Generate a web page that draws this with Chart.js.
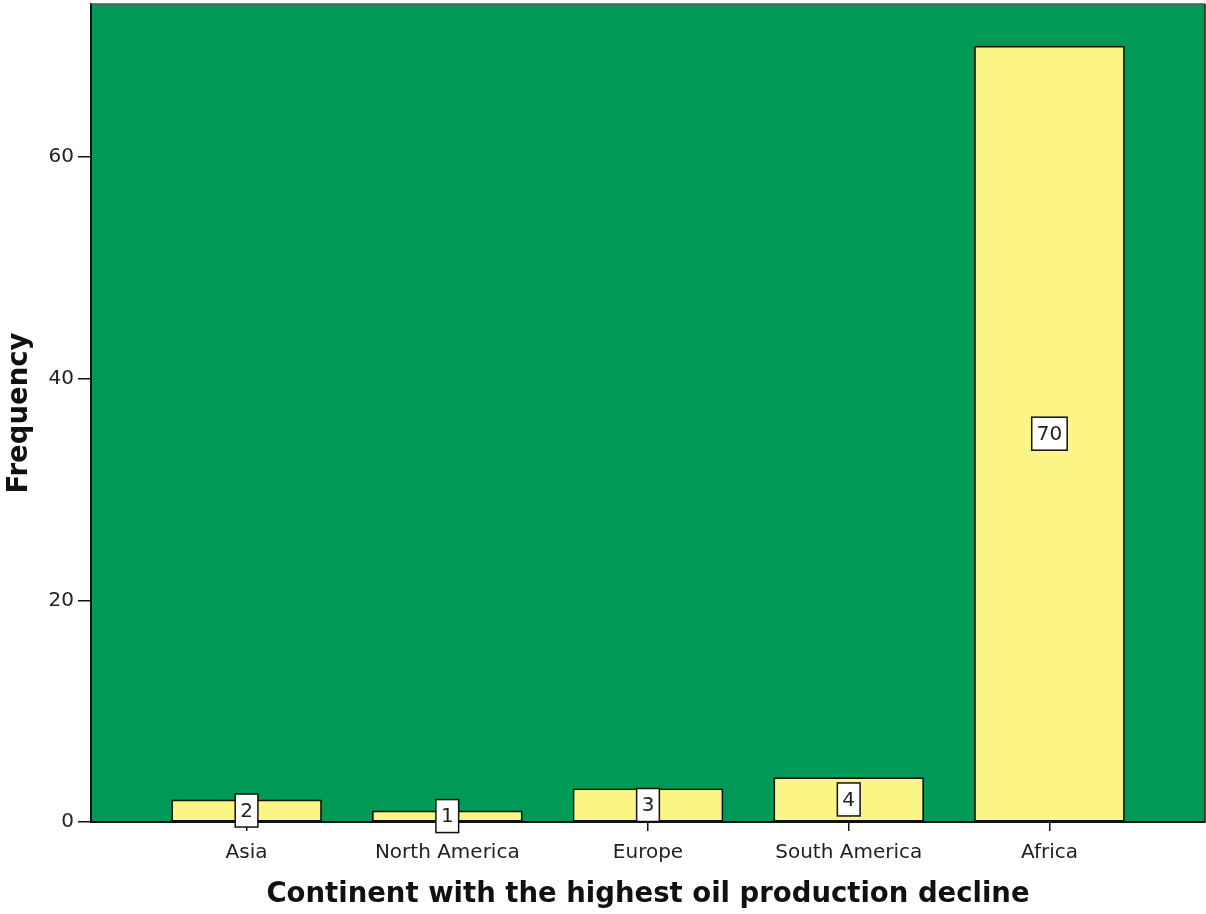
<!DOCTYPE html>
<html>
<head>
<meta charset="utf-8">
<script src="https://cdn.jsdelivr.net/npm/chart.js@4.4.1/dist/chart.umd.min.js"></script>
<style>
  html, body { margin: 0; padding: 0; background: #ffffff; }
  #wrap { width: 1206px; height: 914px; position: relative; }
</style>
</head>
<body>
<div id="wrap"><canvas id="chart"></canvas></div>
<script>
// Continents and how often each was named
const continents = ['Asia', 'North America', 'Europe', 'South America', 'Africa'];
const frequencies = [2, 1, 3, 4, 70];
const yTickValues = [0, 20, 40, 60];

const PLOT_BG = '#009a56';
const BAR_FILL = '#fbf586';
const TICK_FONT = { family: 'DejaVu Sans', size: 20 };
const TITLE_FONT = { family: 'DejaVu Sans', size: 27.5, weight: 'bold' };

// Green plot background plus the top/right frame lines
const plotFrame = {
  id: 'plotFrame',
  beforeDraw(chart) {
    const { ctx, chartArea: a } = chart;
    ctx.save();
    ctx.fillStyle = PLOT_BG;
    ctx.fillRect(a.left, a.top, a.right - a.left, a.bottom - a.top);
    ctx.restore();
  },
  afterDraw(chart) {
    const { ctx, chartArea: a } = chart;
    ctx.save();
    ctx.lineWidth = 1.5;
    ctx.strokeStyle = '#555555';
    ctx.beginPath();
    ctx.moveTo(a.left, a.top);
    ctx.lineTo(a.right, a.top);
    ctx.stroke();
    ctx.strokeStyle = '#1a1a1a';
    ctx.beginPath();
    ctx.moveTo(a.right, a.top);
    ctx.lineTo(a.right, a.bottom);
    ctx.stroke();
    ctx.restore();
  }
};

// Boxed value label at the vertical middle of each bar
const valueBoxes = {
  id: 'valueBoxes',
  afterDatasetsDraw(chart) {
    const { ctx } = chart;
    const meta = chart.getDatasetMeta(0);
    ctx.save();
    ctx.font = `${TICK_FONT.size}px ${TICK_FONT.family}`;
    ctx.textAlign = 'center';
    ctx.textBaseline = 'middle';
    meta.data.forEach((bar, i) => {
      const text = String(frequencies[i]);
      const cx = bar.x;
      const cy = (bar.y + bar.base) / 2;
      const w = ctx.measureText(text).width + 10;
      const h = 33;
      ctx.fillStyle = '#ffffff';
      ctx.fillRect(cx - w / 2, cy - h / 2, w, h);
      ctx.lineWidth = 1.5;
      ctx.strokeStyle = '#111111';
      ctx.strokeRect(cx - w / 2, cy - h / 2, w, h);
      ctx.fillStyle = '#222222';
      ctx.fillText(text, cx, cy + 1);
    });
    ctx.restore();
  }
};

new Chart(document.getElementById('chart'), {
  type: 'bar',
  data: {
    datasets: [{
      label: 'Frequency',
      data: frequencies.map((v, i) => ({ x: i, y: v })),
      backgroundColor: BAR_FILL,
      borderColor: '#111111',
      borderWidth: 1.7,
      borderSkipped: false,
      barThickness: 150
    }]
  },
  options: {
    responsive: true,
    maintainAspectRatio: false,
    animation: false,
    devicePixelRatio: 1,
    layout: { padding: { top: 4, right: 1, left: 0, bottom: 0 } },
    plugins: {
      legend: { display: false },
      tooltip: { enabled: false }
    },
    scales: {
      x: {
        type: 'linear',
        offset: false,
        min: -0.775,
        max: 4.775,
        afterBuildTicks(scale) {
          scale.ticks = continents.map((_, i) => ({ value: i }));
        },
        afterFit(scale) {
          scale.height = 92;
          scale.paddingLeft = 0;
          scale.paddingRight = 0;
        },
        ticks: {
          callback: (v) => continents[v],
          font: TICK_FONT,
          color: '#222222',
          padding: 10,
          maxRotation: 0,
          autoSkip: false
        },
        grid: {
          offset: false,
          drawOnChartArea: false,
          drawTicks: true,
          tickLength: 9,
          color: '#111111',
          lineWidth: 1.5
        },
        border: { display: true, color: '#111111', width: 2 },
        title: {
          display: true,
          text: 'Continent with the highest oil production decline',
          font: TITLE_FONT,
          color: '#111111',
          padding: { top: 0, bottom: 3 }
        }
      },
      y: {
        min: 0,
        max: 73.8,
        afterBuildTicks(scale) {
          scale.ticks = yTickValues.map(v => ({ value: v }));
        },
        afterFit(scale) {
          scale.width = 91;
          scale.paddingTop = 0;
          scale.paddingBottom = 0;
        },
        ticks: {
          font: TICK_FONT,
          color: '#222222',
          padding: 4
        },
        grid: {
          drawOnChartArea: false,
          drawTicks: true,
          tickLength: 13,
          color: '#111111',
          lineWidth: 1.5
        },
        border: { display: true, color: '#111111', width: 2 },
        title: {
          display: true,
          text: 'Frequency',
          font: TITLE_FONT,
          color: '#111111',
          padding: { top: 3, bottom: 0 }
        }
      }
    }
  },
  plugins: [plotFrame, valueBoxes]
});
</script>
</body>
</html>
